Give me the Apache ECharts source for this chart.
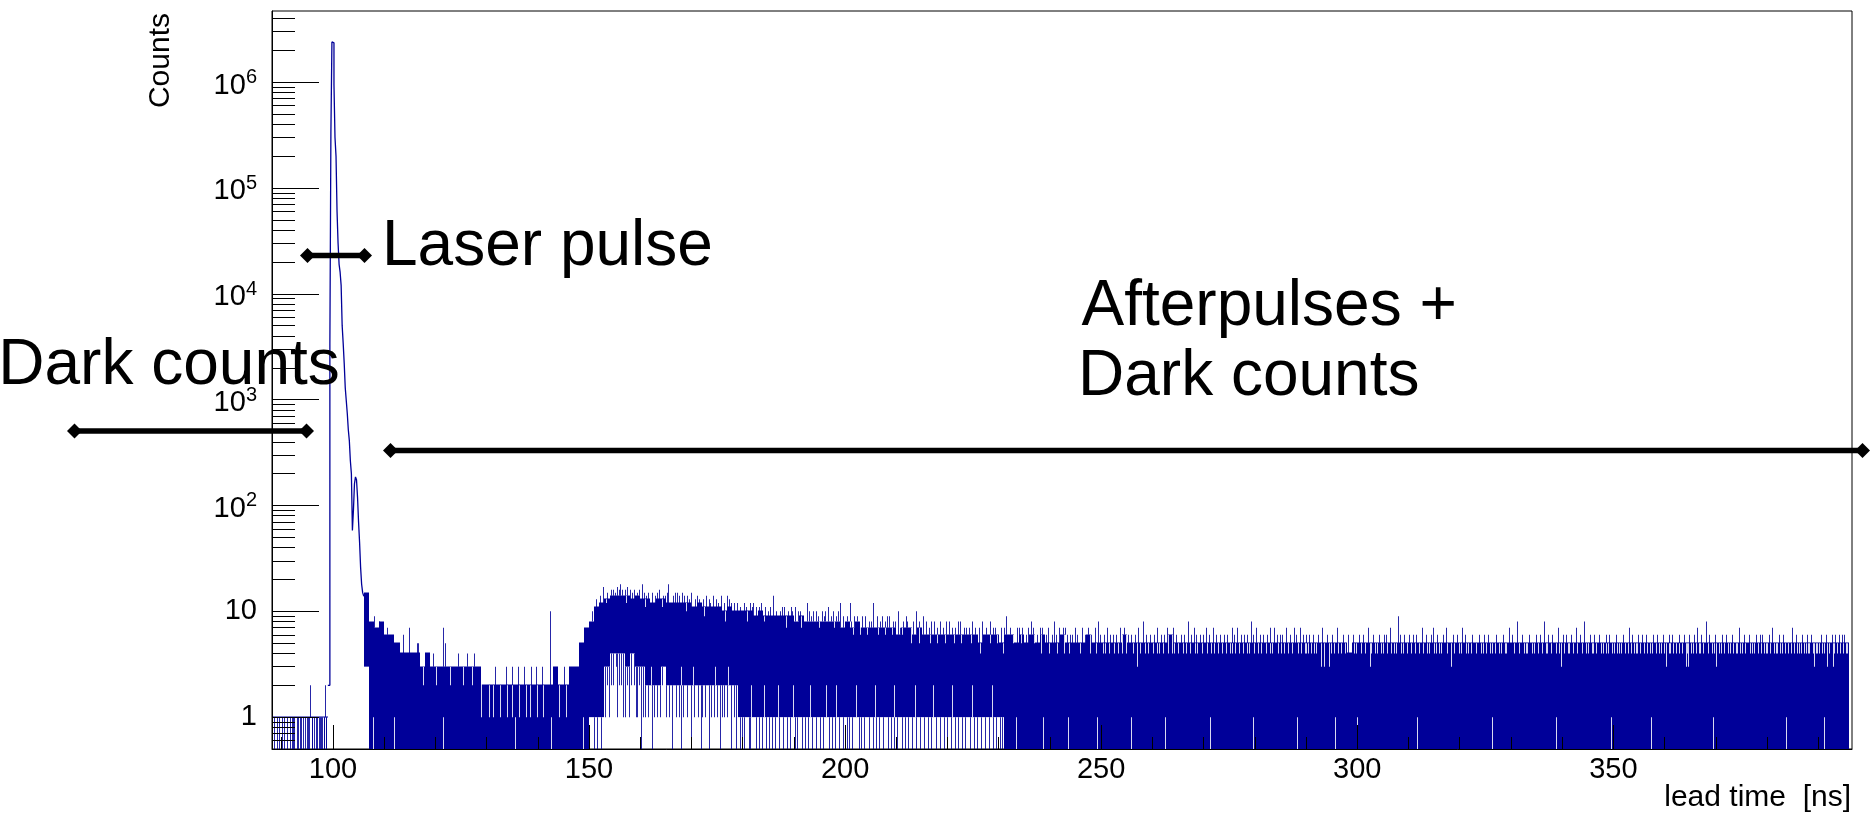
<!DOCTYPE html>
<html>
<head>
<meta charset="utf-8">
<script src="https://cdn.jsdelivr.net/npm/echarts@6/dist/echarts.min.js"></script>
<style>
  html, body { margin: 0; padding: 0; background: #ffffff; }
  #chart { width: 1876px; height: 814px; }
</style>
</head>
<body>
<div id="chart"></div>
<script>
// ---- axis ranges and tick values ----
const X_RANGE = [88.1, 396.6];
const Y_RANGE = [0.5, 4.7e6];
const X_MAJOR = [100, 150, 200, 250, 300, 350];
const X_MINOR = [90, 110, 120, 130, 140, 160, 170, 180, 190, 210, 220, 230, 240, 260, 270, 280, 290,
                 310, 320, 330, 340, 360, 370, 380, 390];
const Y_MAJOR = [1, 10, 100, 1000, 10000, 100000, 1000000];
const Y_MINOR = [0.6, 0.7, 0.8, 0.9, 2, 3, 4, 5, 6, 7, 8, 9, 20, 30, 40, 50, 60, 70, 80, 90,
                 200, 300, 400, 500, 600, 700, 800, 900, 2000, 3000, 4000, 5000, 6000, 7000, 8000, 9000,
                 2e4, 3e4, 4e4, 5e4, 6e4, 7e4, 8e4, 9e4, 2e5, 3e5, 4e5, 5e5, 6e5, 7e5, 8e5, 9e5,
                 2e6, 3e6, 4e6];

// ---- laser pulse: counts in 0.2 ns bins starting at 99.0 ns ----
const PEAK_START = 99.0;
const PEAK_BIN = 0.2;
const PEAK_COUNTS = [2, 2, 3300, 330000, 2400000, 2350000, 950000, 300000, 200000, 60000,
                     30000, 19000, 16000, 12000, 5000, 3400, 2200, 1300, 980, 740,
                     520, 410, 265, 200, 58, 90, 160, 186, 175, 120,
                     70, 45, 26, 18, 15, 14];

// ---- band of the fine-binned histogram, one column per ns starting at 88 ns ----
// highest and lowest bin count inside each column (0 = empty bins reach the axis);
// null where the pulse is drawn as a line instead
const BAND_START = 88;
const BAND_HI = [
  1, 1, 1, 1, 1, 1, 1, 1, 1, 1, 1,                    // 88-98
  null, null, null, null, null, null, null,           // 99-105
  15, 8, 7, 8, 6, 6, 5, 4, 4, 4,                      // 106-115
  4, 3, 4, 3, 3, 3, 3, 3, 3, 3,                       // 116-125
  3, 3, 3, 2, 2, 2, 2, 2, 2, 2,                       // 126-135
  2, 2, 2, 2, 2, 2, 2, 3, 2, 2,                       // 136-145
  3, 3, 5, 7, 8, 11, 12, 13, 14, 14,                  // 146-155
  14, 14, 13, 14, 13, 13, 12, 13, 13, 12,             // 156-165
  12, 12, 12, 12, 11, 12, 11, 11, 11, 11,             // 166-175
  10, 11, 10, 10, 10, 10, 9, 10, 9, 9,                // 176-185
  9, 9, 9, 9, 8, 9, 8, 8, 8, 8,                       // 186-195
  8, 8, 8, 7, 8, 7, 8, 7, 7, 7,                       // 196-205
  7, 7, 7, 7, 6, 7, 7, 6, 7, 6,                       // 206-215
  6, 6, 6, 6, 6, 6, 6, 6, 6, 6,                       // 216-225
  5, 6, 6, 6, 5, 6, 6, 5, 6, 5,                       // 226-235
  6, 5, 6, 5, 5, 5, 6, 5, 5, 5,                       // 236-245
  5, 6, 5, 5, 5, 5, 5, 5, 6, 5,                       // 246-255
  5, 5, 5, 5, 5, 5, 5, 6, 5, 5,                       // 256-265
  5, 5, 5, 5, 5, 5, 5, 5, 5, 5,                       // 266-275
  5, 5, 5, 5, 5, 5, 5, 5, 5, 5,                       // 276-285
  5, 5, 5, 5, 5, 5, 5, 5, 5, 5,                       // 286-295
  5, 5, 4, 5, 5, 5, 5, 5, 5, 5,                       // 296-305
  5, 5, 5, 5, 5, 5, 5, 5, 5, 5,                       // 306-315
  5, 5, 5, 5, 5, 5, 5, 5, 5, 5,                       // 316-325
  5, 5, 5, 5, 5, 5, 5, 5, 5, 5,                       // 326-335
  5, 5, 5, 5, 5, 5, 5, 5, 5, 5,                       // 336-345
  5, 5, 5, 5, 5, 5, 5, 5, 5, 5,                       // 346-355
  5, 5, 5, 5, 5, 5, 5, 5, 5, 5,                       // 356-365
  5, 5, 5, 5, 5, 5, 5, 5, 5, 5,                       // 366-375
  5, 5, 5, 5, 5, 5, 5, 5, 5, 5,                       // 376-385
  5, 5, 5, 5, 5, 5, 5, 5, 5, 5                        // 386-395
];
const BAND_LO = [
  1, 1, 1, 1, 1, 1, 1, 1, 1, 1, 1,                    // 88-98
  null, null, null, null, null, null, null,           // 99-105
  3, 0, 0, 0, 0, 0, 0, 0, 0, 0,                       // 106-115
  0, 0, 0, 0, 0, 0, 0, 0, 0, 0,                       // 116-125
  0, 0, 0, 0, 0, 0, 0, 0, 0, 0,                       // 126-135
  0, 0, 0, 0, 0, 0, 0, 0, 0, 0,                       // 136-145
  0, 0, 0, 0, 1, 1, 1, 3, 4, 4,                       // 146-155
  4, 3, 4, 3, 3, 2, 2, 2, 3, 2,                       // 156-165
  2, 2, 2, 2, 2, 2, 2, 2, 2, 2,                       // 166-175
  2, 2, 2, 1, 1, 1, 1, 1, 1, 1,                       // 176-185
  1, 1, 1, 1, 1, 1, 1, 1, 1, 1,                       // 186-195
  1, 1, 1, 1, 1, 1, 1, 1, 1, 1,                       // 196-205
  1, 1, 1, 1, 1, 1, 1, 1, 1, 1,                       // 206-215
  1, 1, 1, 1, 1, 1, 1, 1, 1, 1,                       // 216-225
  1, 1, 1, 1, 1, 0, 0, 0, 0, 0,                       // 226-235
  0, 0, 0, 0, 0, 0, 0, 0, 0, 0,                       // 236-245
  0, 0, 0, 0, 0, 0, 0, 0, 0, 0,                       // 246-255
  0, 0, 0, 0, 0, 0, 0, 0, 0, 0,                       // 256-265
  0, 0, 0, 0, 0, 0, 0, 0, 0, 0,                       // 266-275
  0, 0, 0, 0, 0, 0, 0, 0, 0, 0,                       // 276-285
  0, 0, 0, 0, 0, 0, 0, 0, 0, 0,                       // 286-295
  0, 0, 0, 0, 0, 0, 0, 0, 0, 0,                       // 296-305
  0, 0, 0, 0, 0, 0, 0, 0, 0, 0,                       // 306-315
  0, 0, 0, 0, 0, 0, 0, 0, 0, 0,                       // 316-325
  0, 0, 0, 0, 0, 0, 0, 0, 0, 0,                       // 326-335
  0, 0, 0, 0, 0, 0, 0, 0, 0, 0,                       // 336-345
  0, 0, 0, 0, 0, 0, 0, 0, 0, 0,                       // 346-355
  0, 0, 0, 0, 0, 0, 0, 0, 0, 0,                       // 356-365
  0, 0, 0, 0, 0, 0, 0, 0, 0, 0,                       // 366-375
  0, 0, 0, 0, 0, 0, 0, 0, 0, 0,                       // 376-385
  0, 0, 0, 0, 0, 0, 0, 0, 0, 0                        // 386-395
];

// single bins sticking out above the band: [time ns, count]
const SPIKES_UP = [
  [95.6, 2], [98.4, 2],
  [108.1, 9], [108.9, 8], [109.9, 8], [110.6, 7], [113.7, 6], [114.8, 7], [116.4, 5], [116.7, 5],
  [118.9, 4], [119.6, 4], [121.5, 7], [121.8, 5], [124.5, 4], [126.2, 4], [127.5, 4],
  [131.6, 3], [133.8, 3], [134.9, 3], [136.1, 3], [137.4, 3], [138.6, 3], [139.7, 3], [140.8, 3],
  [142.4, 10], [143.9, 3], [145.2, 3],
  [150.6, 10], [151.3, 13], [152.1, 14], [152.8, 17], [153.5, 15], [154.2, 16], [154.7, 16],
  [155.1, 15], [155.4, 17], [155.8, 16], [156.0, 18], [156.5, 16], [157.1, 16], [157.5, 17],
  [158.0, 16], [158.4, 15], [158.8, 16], [159.3, 15], [159.7, 16], [160.3, 18], [160.7, 15],
  [161.2, 14], [161.6, 15], [162.3, 15], [162.8, 14], [163.2, 15], [163.7, 16], [164.4, 14],
  [164.9, 14], [165.2, 15], [165.5, 18], [166.4, 14], [166.8, 15], [167.1, 15], [167.6, 14],
  [168.2, 15], [168.6, 14], [169.1, 14], [169.5, 13], [170.0, 15], [170.6, 13], [171.1, 14],
  [171.5, 13], [172.3, 13], [172.8, 14], [173.4, 13], [173.7, 12], [174.3, 14], [174.8, 13],
  [175.2, 12], [175.7, 14], [176.3, 12], [176.9, 14], [177.4, 13], [177.8, 12], [178.4, 12],
  [178.8, 12], [179.5, 11], [180.2, 12], [180.6, 11], [181.4, 12], [181.8, 11], [182.1, 12],
  [182.7, 11], [183.2, 11], [183.6, 12], [184.4, 11], [184.9, 10], [185.3, 11], [186.0, 14],
  [186.6, 10], [187.2, 10], [187.7, 11], [188.1, 11], [188.8, 10], [189.4, 11], [189.7, 10],
  [190.3, 11], [190.8, 10], [191.2, 10], [191.8, 9], [192.5, 12], [192.9, 10], [193.4, 9],
  [193.8, 10], [194.3, 10], [194.7, 9], [195.4, 10], [195.8, 9], [196.1, 10], [196.6, 11],
  [197.2, 9], [197.6, 10], [198.2, 9], [198.7, 10], [199.0, 12], [199.5, 9], [200.3, 9],
  [200.9, 12], [201.2, 8], [201.8, 9], [202.4, 9], [202.8, 8], [203.3, 9], [203.8, 9],
  [204.6, 8], [205.1, 8], [205.5, 12], [206.3, 9], [206.8, 8], [207.2, 9], [207.7, 8],
  [208.2, 9], [208.6, 9], [209.4, 8], [209.8, 8], [210.3, 10], [210.7, 7], [211.3, 8],
  [211.9, 9], [212.1, 8], [212.6, 7], [213.3, 8], [213.9, 10], [214.5, 8], [215.2, 9],
  [215.8, 8], [216.3, 7], [216.8, 8], [217.4, 8], [218.0, 7], [218.5, 8], [219.2, 7],
  [219.7, 8], [220.2, 8], [220.8, 7], [221.5, 7], [222.0, 8], [222.4, 8], [223.3, 7],
  [223.7, 7], [224.1, 7], [224.8, 8], [225.4, 7], [226.2, 7], [226.8, 8], [227.6, 7],
  [228.2, 8], [228.8, 7], [229.3, 7], [229.8, 6], [230.5, 7], [231.1, 7], [231.5, 9],
  [232.2, 7], [232.9, 6], [233.5, 7], [233.9, 7], [234.6, 7], [235.3, 6], [235.8, 7],
  [236.2, 8], [236.7, 7], [237.5, 6], [238.0, 7], [238.4, 7], [239.2, 6], [239.7, 7],
  [240.3, 6], [240.7, 8], [241.2, 6], [241.8, 7], [242.5, 7], [242.9, 7], [243.4, 6],
  [243.9, 6], [244.4, 6], [244.9, 7], [245.3, 6], [246.2, 7], [246.8, 6], [247.1, 6],
  [247.5, 7], [248.1, 6], [248.7, 7], [249.3, 8], [249.8, 6],
  [250.6, 6], [251.2, 7], [251.7, 6], [252.3, 6], [252.9, 6], [253.6, 7], [254.4, 7],
  [255.2, 6], [255.9, 6], [256.7, 6], [257.2, 7], [258.1, 8], [258.8, 6], [259.5, 6],
  [260.4, 6], [260.9, 7], [261.6, 6], [262.2, 6], [262.8, 7], [263.4, 6], [264.1, 7],
  [264.7, 6], [265.5, 6], [266.2, 6], [266.9, 8], [267.6, 6], [268.1, 7], [268.5, 6],
  [269.3, 6], [269.9, 6], [270.4, 7], [271.0, 6], [271.8, 7], [272.5, 6], [273.2, 6],
  [273.9, 6], [274.6, 6], [275.5, 7], [275.9, 6], [276.6, 7], [277.3, 6], [277.8, 6],
  [278.5, 6], [279.2, 8], [279.7, 6], [280.3, 7], [281.1, 6], [281.6, 6], [282.4, 6],
  [282.9, 7], [283.7, 7], [284.3, 6], [284.9, 6], [285.4, 6], [286.1, 7], [286.8, 6],
  [287.6, 7], [288.0, 6], [288.9, 7], [289.5, 6], [289.9, 6], [290.6, 6], [291.3, 6],
  [292.4, 6], [293.2, 7], [294.0, 6], [295.1, 6], [296.0, 7], [297.2, 6], [298.1, 6],
  [299.1, 6], [300.4, 6], [301.2, 6], [302.0, 7], [303.1, 6], [304.3, 6], [305.2, 6],
  [305.7, 6], [306.3, 7], [307.9, 9], [308.4, 6], [309.1, 6], [310.2, 6], [310.8, 6],
  [311.5, 6], [312.6, 7], [313.4, 6], [314.4, 6], [314.7, 7], [315.6, 6], [316.7, 6],
  [317.3, 7], [318.6, 6], [319.5, 6], [320.5, 7], [321.0, 6], [322.5, 6], [323.8, 6],
  [324.8, 6], [325.6, 6], [327.1, 6], [328.4, 6], [329.7, 7], [330.3, 6], [331.2, 8],
  [332.1, 6], [333.6, 6], [334.9, 6], [335.6, 6], [336.5, 8], [337.3, 6], [338.1, 6],
  [339.1, 7], [340.1, 6], [340.7, 6], [341.8, 6], [342.7, 7], [343.4, 6], [344.3, 8],
  [345.4, 6], [346.3, 6], [347.2, 6], [348.5, 6], [349.2, 6], [350.5, 6], [351.8, 6],
  [353.1, 7], [353.7, 6], [354.9, 6], [355.6, 6], [356.3, 6], [357.8, 6], [358.6, 6],
  [359.6, 6], [360.8, 6], [361.4, 6], [362.8, 6], [363.7, 6], [364.7, 6], [365.8, 6],
  [366.4, 7], [367.2, 6], [368.0, 8], [368.7, 6], [369.8, 6], [371.3, 6], [372.0, 6],
  [373.1, 6], [374.5, 7], [375.5, 6], [376.4, 6], [377.8, 6], [378.6, 6], [379.1, 6],
  [380.3, 6], [381.0, 7], [382.3, 6], [383.2, 6], [384.9, 7], [385.7, 6], [386.8, 6],
  [387.9, 6], [388.6, 6], [390.5, 6], [391.5, 6], [392.6, 6], [393.3, 6], [394.0, 6],
  [394.6, 6], [395.1, 6]
];

// single bins dropping below the band: [time ns, count] (0 = empty bin)
const DROPS = [
  [88.55, 0], [89.07, 0], [89.52, 0], [90.05, 0], [90.5, 0], [91.03, 0], [91.53, 0], [92.0, 0],
  [92.2, 0], [92.45, 0], [92.98, 0], [93.2, 0], [93.5, 0], [93.76, 0], [94.15, 0], [94.54, 0],
  [94.93, 0], [95.1, 0], [95.32, 0], [95.9, 0], [96.0, 0], [96.35, 0], [96.74, 0], [96.9, 0],
  [97.19, 0], [97.4, 0], [97.66, 0], [97.9, 0], [98.17, 0], [98.3, 0], [98.56, 0], [98.7, 0],
  [150.9, 0], [151.5, 0], [152.3, 0], [152.7, 1], [153.2, 1], [153.6, 2], [153.9, 1], [154.3, 2],
  [154.6, 2], [155.2, 3], [155.5, 1], [155.9, 2], [156.3, 2], [156.7, 1], [157.1, 1], [157.4, 2],
  [157.8, 1], [158.2, 2], [158.7, 2], [159.1, 1], [159.4, 1], [159.8, 2], [160.1, 0], [160.6, 1],
  [161.0, 1], [161.5, 1], [162.2, 0], [162.7, 1], [163.3, 1], [163.8, 1], [164.3, 2], [165.0, 1],
  [165.7, 1], [166.2, 0], [166.9, 1], [167.5, 1], [168.0, 0], [168.4, 1], [169.2, 1], [169.9, 0],
  [170.5, 1], [171.3, 1], [171.8, 0], [172.1, 1], [172.7, 1], [173.4, 0], [173.8, 1], [174.4, 1],
  [175.0, 1], [175.6, 0], [176.0, 1], [176.4, 1], [177.0, 1], [177.7, 0], [178.3, 1], [178.7, 0],
  [179.4, 0], [179.8, 0], [180.3, 0], [181.2, 0], [181.5, 0], [182.6, 0], [183.1, 0], [183.8, 0],
  [184.5, 0], [185.2, 0], [185.8, 0], [186.4, 0], [187.1, 0], [187.9, 0], [188.6, 0], [189.3, 0],
  [190.2, 0], [190.7, 0], [191.5, 0], [192.2, 0], [192.7, 0], [193.6, 0], [194.4, 0], [195.1, 0],
  [195.6, 0], [196.8, 0], [197.5, 0], [198.1, 0], [198.9, 0], [199.6, 0], [200.4, 0], [200.8, 0],
  [201.3, 0], [202.7, 0], [203.2, 0], [203.7, 0], [204.6, 0], [205.5, 0], [206.1, 0], [206.6, 0],
  [207.4, 0], [208.3, 0], [208.9, 0], [209.6, 0], [210.2, 0], [211.1, 0], [211.6, 0], [212.3, 0],
  [213.1, 0], [213.8, 0], [214.7, 0], [215.4, 0], [216.2, 0], [216.7, 0], [217.8, 0], [218.5, 0],
  [219.3, 0], [219.8, 0], [220.6, 0], [221.4, 0], [222.1, 0], [222.8, 0], [223.5, 0], [224.3, 0],
  [225.2, 0], [225.7, 0], [226.6, 0], [227.3, 0], [228.1, 0], [228.8, 0], [229.4, 0], [230.2, 0],
  [230.6, 0]
];

// bins below the band top that leave a white notch: [time ns, count]
const NOTCHES = [
  [117.5, 2], [120.2, 2], [122.9, 2], [125.4, 2], [127.1, 2],
  [128.9, 1], [130.4, 1], [131.2, 1], [132.6, 1], [133.9, 1], [135.0, 1], [136.3, 1], [137.7, 1],
  [138.5, 1], [139.8, 1], [141.1, 1], [144.2, 1], [145.6, 1],
  [153.3, 12], [157.3, 12], [160.9, 11], [164.2, 11], [168.9, 10], [172.5, 9], [176.6, 8],
  [180.9, 8], [184.2, 8], [188.4, 7], [191.4, 7], [194.9, 7], [197.9, 7],
  [201.6, 6], [202.9, 6], [204.3, 6], [206.5, 6], [207.8, 6], [209.1, 6], [211.2, 6], [212.9, 5],
  [214.5, 5], [216.5, 5], [217.9, 5], [219.5, 5], [221.3, 5], [222.6, 5], [224.6, 5], [226.4, 4],
  [228.2, 5], [229.6, 5], [230.9, 4], [232.7, 5], [234.4, 5], [236.9, 5], [238.2, 4], [239.9, 4],
  [241.4, 4], [242.7, 4], [243.7, 4], [245.8, 4], [246.5, 5], [247.8, 4], [249.0, 4],
  [250.3, 4], [250.8, 4], [251.5, 4], [252.6, 4], [253.2, 4], [254.1, 4], [254.9, 4], [256.3, 4],
  [257.0, 3], [257.6, 4], [258.5, 4], [259.2, 4], [260.2, 4], [260.9, 4], [261.3, 4], [262.0, 4],
  [263.1, 4], [263.8, 4], [264.3, 4], [265.0, 4], [265.9, 4], [266.5, 4], [267.3, 4], [268.3, 4],
  [268.8, 4], [269.6, 4], [270.7, 4], [271.5, 4], [272.1, 4], [272.8, 4], [273.5, 4], [274.3, 4],
  [275.1, 4], [275.6, 4], [276.2, 4], [277.0, 4], [277.6, 4], [278.4, 4], [278.9, 4], [279.9, 4],
  [280.6, 4], [281.3, 4], [282.1, 4], [282.9, 4], [283.3, 4], [284.6, 4], [285.1, 4], [285.7, 4],
  [286.4, 4], [287.2, 4], [288.4, 4], [289.1, 4], [289.7, 4],
  [290.0, 4], [290.3, 4], [291.0, 4], [291.6, 4], [292.0, 4], [292.9, 3], [293.6, 3], [294.4, 3],
  [294.8, 4], [295.5, 4], [296.3, 4], [296.8, 4], [297.7, 4], [298.4, 4], [299.4, 4], [299.7, 4],
  [300.8, 4], [301.5, 4], [302.4, 3], [302.7, 4], [303.4, 4], [303.9, 4], [304.6, 4], [305.0, 4],
  [305.9, 4], [306.6, 4], [307.2, 4], [307.6, 4], [308.6, 4], [308.9, 4], [309.8, 4], [310.5, 4],
  [311.2, 4], [312.1, 4], [312.9, 4], [313.7, 4], [314.1, 4], [315.0, 4], [315.3, 4], [316.0, 4],
  [316.4, 4], [317.6, 4], [318.3, 3], [318.9, 4], [319.8, 4], [320.2, 4], [321.2, 4], [321.6, 4],
  [322.2, 4], [323.1, 4], [324.1, 4], [324.5, 4], [325.1, 4], [325.9, 4], [326.4, 4], [326.9, 4],
  [327.7, 4], [328.1, 4], [328.8, 4], [329.0, 4], [330.6, 4], [331.5, 4], [332.5, 4], [332.9, 4],
  [333.2, 4], [334.2, 4], [334.6, 4], [335.3, 4], [336.1, 4], [336.8, 4], [337.1, 4], [337.8, 4],
  [338.8, 4], [339.4, 4], [339.7, 3], [340.4, 4], [341.1, 4], [341.4, 4], [342.2, 4], [343.0, 4],
  [343.8, 4], [344.6, 4], [345.0, 4], [345.9, 4], [346.1, 4], [346.6, 4], [347.5, 4], [347.9, 4],
  [348.5, 4], [349.0, 4], [349.8, 4], [350.2, 4], [350.8, 4], [351.1, 4], [351.5, 4], [352.3, 4],
  [352.8, 4], [353.4, 4], [354.0, 4], [354.4, 4], [354.7, 4], [355.3, 4], [355.9, 4], [356.6, 4],
  [357.1, 4], [357.6, 4], [358.3, 4], [358.9, 4], [359.3, 4], [359.9, 4], [360.2, 3], [360.9, 4],
  [361.1, 4], [361.7, 4], [362.2, 4], [362.8, 4], [363.4, 4], [364.1, 3], [364.3, 4], [364.5, 3],
  [365.1, 4], [365.5, 4], [366.1, 4], [366.7, 4], [367.0, 4], [367.5, 4], [368.4, 4], [369.2, 4],
  [369.6, 4], [370.0, 3], [370.6, 4], [371.0, 4], [371.6, 4], [372.4, 4], [372.7, 4], [373.4, 4],
  [373.9, 4], [374.1, 4], [374.8, 4], [375.2, 4], [375.8, 4], [376.7, 4], [377.1, 4], [377.4, 4],
  [378.2, 4], [378.9, 4], [379.4, 4], [379.8, 4], [380.0, 4], [380.6, 4], [381.3, 4], [381.7, 4],
  [382.0, 4], [382.6, 4], [383.0, 4], [383.5, 4], [384.2, 4], [384.6, 4], [385.2, 4], [385.9, 4],
  [386.3, 4], [386.6, 4], [387.2, 4], [387.6, 4], [388.0, 4], [388.3, 4], [388.9, 4], [389.2, 3],
  [389.5, 4], [389.8, 4], [390.2, 4], [390.8, 4], [391.1, 4], [391.8, 3], [392.2, 4], [392.8, 3],
  [393.0, 4], [393.6, 4], [394.3, 4], [394.9, 4], [395.4, 4], [395.7, 4]
];

// bins that stay above the band floor, leaving a white sliver from the floor up: [time ns, count]
const SLIVERS = [
  [107.9, 1], [112.0, 1], [121.5, 1], [135.6, 1], [142.55, 1], [148.8, 1],
  [162.1, 3], [164.6, 3], [167.9, 3], [170.3, 3], [174.6, 3], [177.1, 3],
  [181.7, 2], [184.1, 2], [186.9, 2], [189.8, 2], [193.1, 2], [196.3, 2], [198.3, 2], [202.2, 2],
  [205.9, 2], [209.5, 2], [213.6, 2], [217.2, 2], [220.9, 2], [224.7, 2], [228.6, 2],
  [233.4, 1], [238.7, 1], [243.5, 1], [249.1, 1], [255.8, 1], [262.4, 1], [271.3, 1], [279.6, 1],
  [288.2, 1], [295.6, 1], [300.0, 1], [311.7, 1], [326.4, 1], [338.9, 1], [349.5, 1], [357.3, 1],
  [369.5, 1], [383.8, 1], [391.2, 1]
];

// ---- drawing ----
const BLUE = '#000099';
const FONT = 'Liberation Sans, Arial, Helvetica, sans-serif';

function colIndex(t) {
  const i = Math.floor(t) - BAND_START;
  return (i >= 0 && i < BAND_HI.length && BAND_HI[i] !== null) ? i : -1;
}
function floorY(v) { return v > 0 ? v : Y_RANGE[0]; }

const bandData = [];
BAND_HI.forEach(function (h, i) {
  if (h !== null) bandData.push([BAND_START + i, h, BAND_LO[i]]);
});
const upData = SPIKES_UP.map(function (d) {
  const i = colIndex(d[0]);
  return [d[0], i >= 0 ? BAND_HI[i] : 1, d[1]];
});
const dropData = DROPS.map(function (d) {
  const i = colIndex(d[0]);
  return [d[0], i >= 0 ? BAND_LO[i] : 1, d[1]];
});
const notchData = NOTCHES.map(function (d) {
  const i = colIndex(d[0]);
  return [d[0], i >= 0 ? BAND_HI[i] : d[1], d[1]];
});
const sliverData = SLIVERS.map(function (d) {
  const i = colIndex(d[0]);
  return [d[0], i >= 0 ? BAND_LO[i] : 0, d[1]];
});

const peakData = PEAK_COUNTS.map(function (c, i) { return [PEAK_START + i * PEAK_BIN, c]; });
peakData.push([PEAK_START + PEAK_COUNTS.length * PEAK_BIN, PEAK_COUNTS[PEAK_COUNTS.length - 1]]);

function renderBand(params, api) {
  const t = api.value(0), hi = api.value(1), lo = api.value(2);
  const pTop = api.coord([t, hi]);
  const pBot = api.coord([t + 1, floorY(lo)]);
  const x0 = Math.round(pTop[0]), x1 = Math.round(pBot[0]);
  let y0 = Math.round(pTop[1]) - 0.5, h = pBot[1] - y0;
  if (h < 1) { h = 1; }
  const shape = echarts.graphic.clipRectByRect(
    { x: x0, y: y0, width: x1 - x0, height: h },
    { x: params.coordSys.x, y: params.coordSys.y, width: params.coordSys.width, height: params.coordSys.height }
  );
  if (!shape) return null;
  return { type: 'rect', shape: shape, style: { fill: BLUE } };
}

function makeLineRenderer(color) {
  return function (params, api) {
    const t = api.value(0);
    const a = api.coord([t, floorY(api.value(1))]);
    const b = api.coord([t, floorY(api.value(2))]);
    const x = Math.round(a[0]);
    const y0 = Math.min(a[1], b[1]), y1 = Math.max(a[1], b[1]);
    return { type: 'rect', shape: { x: x, y: y0, width: 1, height: y1 - y0 }, style: { fill: color } };
  };
}

function yLabel(v) {
  const e = Math.round(Math.log10(v));
  if (e === 0) return '{p|1}';
  if (e === 1) return '{p|10}';
  return '{m|10}{s|' + e + '}';
}

function diamondArrow(x1, x2, y) {
  const hw = 7.5, hh = 7.5;
  return [
    { type: 'line', z: 100, shape: { x1: x1 + hw, y1: y, x2: x2 - hw, y2: y }, style: { stroke: '#000', lineWidth: 5.5 } },
    { type: 'polygon', z: 100, shape: { points: [[x1, y], [x1 + hw, y - hh], [x1 + 2 * hw, y], [x1 + hw, y + hh]] }, style: { fill: '#000' } },
    { type: 'polygon', z: 100, shape: { points: [[x2, y], [x2 - hw, y - hh], [x2 - 2 * hw, y], [x2 - hw, y + hh]] }, style: { fill: '#000' } }
  ];
}

function label(text, x, y, size, align) {
  return { type: 'text', z: 100, x: x, y: y,
    style: { text: text, font: size + 'px ' + FONT, fill: '#000', align: align || 'left', verticalAlign: 'middle' } };
}

const chart = echarts.init(document.getElementById('chart'), null, { renderer: 'canvas' });

const axisCommonX = {
  type: 'value', min: X_RANGE[0], max: X_RANGE[1], position: 'bottom', z: 10,
  splitLine: { show: false }
};
const axisCommonY = {
  type: 'log', logBase: 10, min: Y_RANGE[0], max: Y_RANGE[1], position: 'left', z: 10,
  splitLine: { show: false }, minorTick: { show: false }
};

chart.setOption({
  animation: false,
  backgroundColor: '#ffffff',
  grid: { left: 272, top: 11, right: 24, bottom: 65, show: true, borderColor: '#000', borderWidth: 1, backgroundColor: 'transparent' },
  xAxis: [
    Object.assign({}, axisCommonX, {
      axisLine: { show: true, onZero: false, lineStyle: { color: '#000', width: 1 } },
      axisTick: { show: true, inside: true, length: 24, customValues: X_MAJOR, lineStyle: { color: '#000', width: 1 } },
      axisLabel: { show: true, customValues: X_MAJOR, color: '#000', fontSize: 29, fontFamily: FONT, margin: 6 }
    }),
    Object.assign({}, axisCommonX, {
      axisLine: { show: false, onZero: false },
      axisTick: { show: true, inside: true, length: 12, customValues: X_MINOR, lineStyle: { color: '#000', width: 1 } },
      axisLabel: { show: false }
    })
  ],
  yAxis: [
    Object.assign({}, axisCommonY, {
      axisLine: { show: true, onZero: false, lineStyle: { color: '#000', width: 1 } },
      axisTick: { show: true, inside: true, length: 47, customValues: Y_MAJOR, lineStyle: { color: '#000', width: 1 } },
      axisLabel: {
        show: true, customValues: Y_MAJOR, margin: 15, color: '#000', fontFamily: FONT, fontSize: 29,
        padding: [7, 0, 0, 0],
        formatter: yLabel,
        rich: {
          p: { fontSize: 29, fontFamily: FONT, color: '#000', lineHeight: 29, padding: [0, 0, 7, 0] },
          m: { fontSize: 29, fontFamily: FONT, color: '#000', lineHeight: 36 },
          s: { fontSize: 20, fontFamily: FONT, color: '#000', lineHeight: 21, verticalAlign: 'top' }
        }
      }
    }),
    Object.assign({}, axisCommonY, {
      axisLine: { show: false, onZero: false },
      axisTick: { show: true, inside: true, length: 23, customValues: Y_MINOR, lineStyle: { color: '#000', width: 1 } },
      axisLabel: { show: false }
    })
  ],
  series: [
    { type: 'custom', name: 'band', xAxisIndex: 0, yAxisIndex: 0, z: 2, clip: true,
      encode: { x: 0, y: 1 }, data: bandData, renderItem: renderBand, silent: true },
    { type: 'custom', name: 'spikes', xAxisIndex: 0, yAxisIndex: 0, z: 3, clip: true,
      encode: { x: 0, y: 2 }, data: upData, renderItem: makeLineRenderer('rgba(0,0,153,0.85)'), silent: true },
    { type: 'custom', name: 'drops', xAxisIndex: 0, yAxisIndex: 0, z: 3, clip: true,
      encode: { x: 0, y: 2 }, data: dropData, renderItem: makeLineRenderer('rgba(0,0,153,0.85)'), silent: true },
    { type: 'custom', name: 'notches', xAxisIndex: 0, yAxisIndex: 0, z: 4, clip: true,
      encode: { x: 0, y: 2 }, data: notchData, renderItem: makeLineRenderer('rgba(255,255,255,0.85)'), silent: true },
    { type: 'custom', name: 'slivers', xAxisIndex: 0, yAxisIndex: 0, z: 4, clip: true,
      encode: { x: 0, y: 2 }, data: sliverData, renderItem: makeLineRenderer('rgba(255,255,255,0.85)'), silent: true },
    { type: 'line', name: 'pulse', xAxisIndex: 0, yAxisIndex: 0, z: 5, step: 'end', showSymbol: false,
      symbol: 'none', clip: true, data: peakData, lineStyle: { color: BLUE, width: 1.3 }, silent: true }
  ],
  graphic: [].concat(
    diamondArrow(300, 372, 255.5),
    diamondArrow(67, 314, 431),
    diamondArrow(383, 1870, 450.5),
    [
      label('Laser pulse', 382, 247.1, 64),
      label('Afterpulses +', 1081.5, 307.8, 64),
      label('Dark counts', 1078, 377.8, 64),
      label('Dark counts', -1.7, 366.1, 64),
      label('lead time  [ns]', 1851, 797.6, 30, 'right'),
      { type: 'text', z: 100, x: 161, y: 13, rotation: Math.PI / 2,
        style: { text: 'Counts', font: '30px ' + FONT, fill: '#000', align: 'right', verticalAlign: 'middle' } }
    ]
  )
});
</script>
</body>
</html>
